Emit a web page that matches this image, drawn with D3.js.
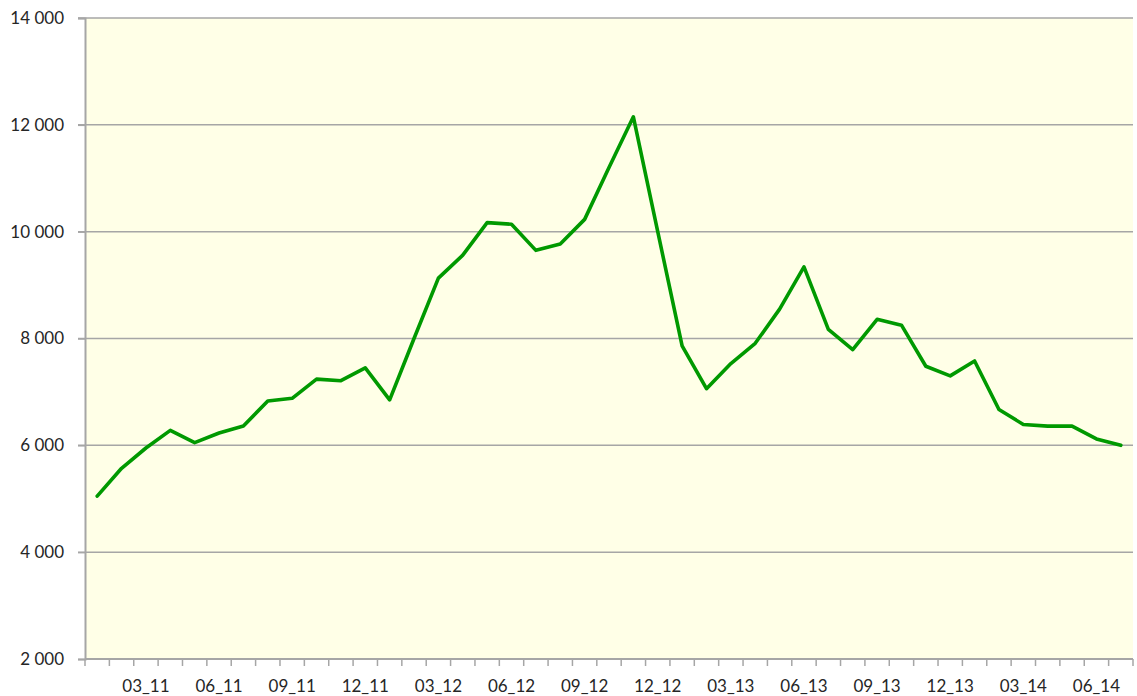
<!DOCTYPE html>
<html><head><meta charset="utf-8">
<script src="https://cdn.jsdelivr.net/npm/d3@7"></script>
<style>
html,body{margin:0;padding:0;background:#fff;}
svg{display:block;}
text{font-family:Lato,"Open Sans",sans-serif;fill:#262626;}
</style></head>
<body>
<svg id="chart" width="1137" height="696"></svg>
<script>
const months = ["01_11","02_11","03_11","04_11","05_11","06_11","07_11","08_11","09_11","10_11","11_11","12_11",
"01_12","02_12","03_12","04_12","05_12","06_12","07_12","08_12","09_12","10_12","11_12","12_12",
"01_13","02_13","03_13","04_13","05_13","06_13","07_13","08_13","09_13","10_13","11_13","12_13",
"01_14","02_14","03_14","04_14","05_14","06_14","07_14"];
const values = [5050,5570,5950,6280,6050,6230,6360,6830,6880,7240,7210,7450,
6850,8000,9130,9560,10170,10140,9650,9770,10230,11200,12150,10000,
7860,7060,7530,7910,8550,9340,8170,7790,8360,8250,7480,7300,
7580,6670,6390,6360,6360,6120,6000];
const yTicks = [2000,4000,6000,8000,10000,12000,14000];
const shownLabels = ["03_11","06_11","09_11","12_11","03_12","06_12","09_12","12_12","03_13","06_13","09_13","12_13","03_14","06_14"];

const svg = d3.select("#chart");
const L = 85, R = 1133, T = 18, B = 659;

const x = d3.scaleBand().domain(months).range([L, R]).padding(0);
const y = d3.scaleLinear().domain([2000, 14000]).range([B, T]);

svg.append("rect").attr("x", L).attr("y", T).attr("width", R - L).attr("height", B - T).attr("fill", "#FFFFE7");

// gridlines
svg.append("g").selectAll("line").data(yTicks.slice(1)).join("line")
  .attr("x1", L - 7).attr("x2", R)
  .attr("y1", d => y(d)).attr("y2", d => y(d))
  .attr("stroke", "#a6a6a6").attr("stroke-width", 1.5);

// y axis
const fmt = d => d3.format(",")(d).replace(/,/g, " ");
const yAxis = svg.append("g").attr("transform", `translate(${L},0)`)
  .call(d3.axisLeft(y).tickValues(yTicks).tickFormat(fmt).tickSize(7).tickPadding(14));
yAxis.select(".domain").attr("stroke", "#a6a6a6").attr("stroke-width", 2);
yAxis.selectAll(".tick line").attr("stroke", "#a6a6a6").attr("stroke-width", 1.5);
yAxis.selectAll("text").attr("font-size", 17).attr("fill", "#262626").style("font-family", "Lato, 'Open Sans', sans-serif");

// x axis
const xAxis = svg.append("g").attr("transform", `translate(0,${B})`);
xAxis.append("line").attr("x1", L).attr("x2", R).attr("y1", 0).attr("y2", 0).attr("stroke", "#a6a6a6").attr("stroke-width", 2);
const boundaries = months.map(m => x(m)).concat([x(months[months.length - 1]) + x.bandwidth()]);
xAxis.selectAll("line.tk").data(boundaries).join("line").attr("class", "tk")
  .attr("x1", d => d).attr("x2", d => d).attr("y1", 0).attr("y2", 7)
  .attr("stroke", "#a6a6a6").attr("stroke-width", 1.5);
xAxis.selectAll("text").data(shownLabels).join("text")
  .attr("x", d => x(d) + x.bandwidth() / 2).attr("y", 33)
  .attr("text-anchor", "middle").attr("font-size", 17).text(d => d);

// line
const line = d3.line().x((d, i) => x(months[i]) + x.bandwidth() / 2).y(d => y(d));
svg.append("path").datum(values).attr("d", line)
  .attr("fill", "none").attr("stroke", "#009900").attr("stroke-width", 3.6)
  .attr("stroke-linejoin", "round").attr("stroke-linecap", "round");
</script>
</body></html>
